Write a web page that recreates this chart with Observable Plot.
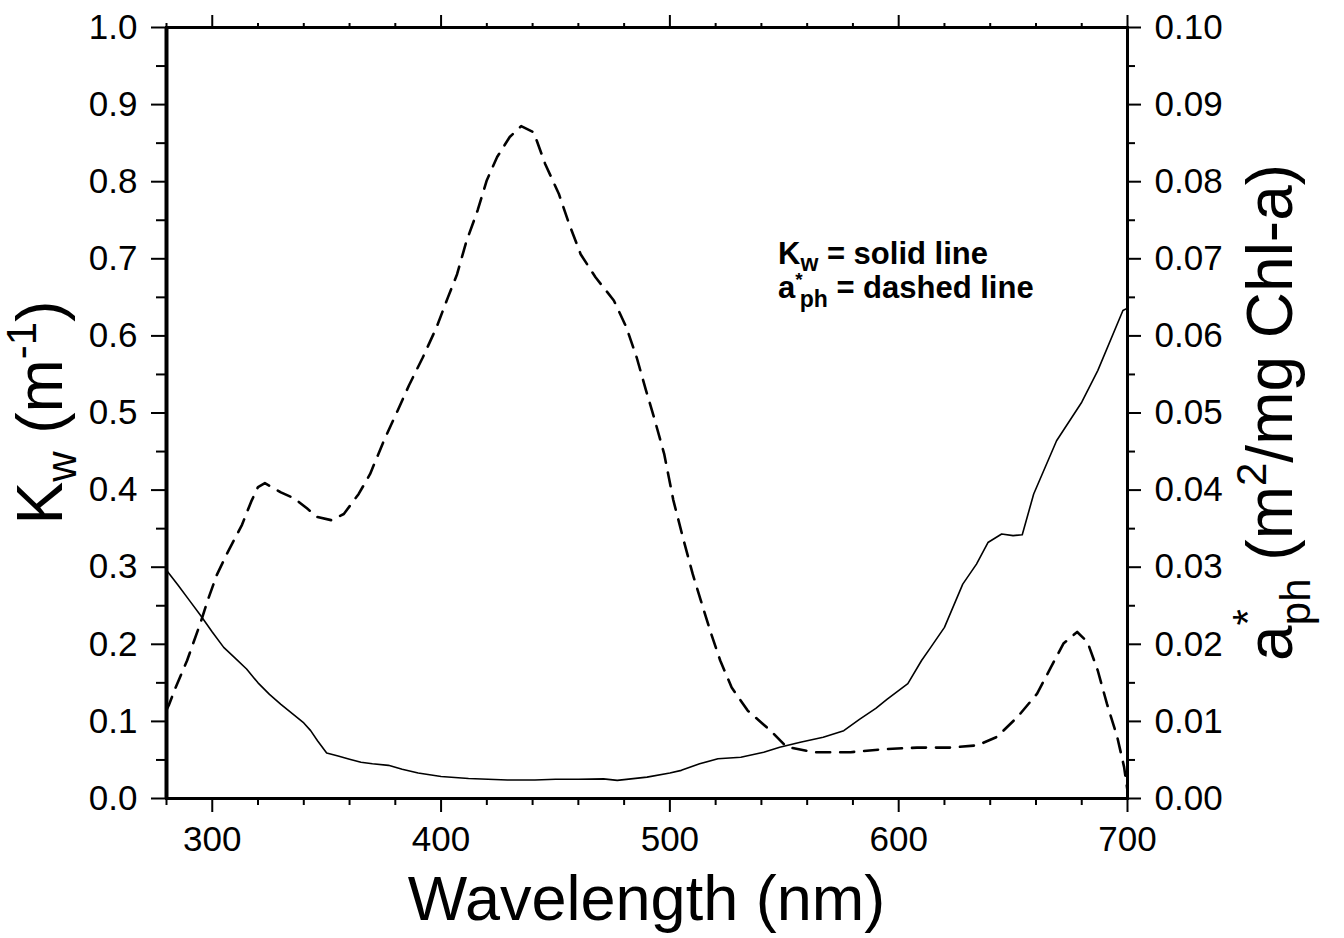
<!DOCTYPE html>
<html>
<head>
<meta charset="utf-8">
<script src="https://cdn.jsdelivr.net/npm/d3@7"></script>
<script src="https://cdn.jsdelivr.net/npm/@observablehq/plot@0.6"></script>
<style>
  html, body { margin: 0; padding: 0; background: #fff; }
  #chart { width: 1344px; height: 938px; }
</style>
</head>
<body>
<div id="chart"></div>
<script>
// ---- Data ----
// Kw (m^-1), solid line, left axis
const kwWavelength = [280, 285, 290, 295, 300, 305, 310, 315, 320, 325, 330, 335, 340, 343, 346, 350, 355, 360, 365, 370, 377, 383, 390, 400, 412, 429, 441, 450, 460, 471, 477, 490, 500, 505, 513, 521, 531, 541, 548, 557, 567, 576, 583, 590, 595, 604, 610, 614, 620, 628, 634, 639, 645, 650, 654, 659, 669, 680, 687, 698, 700];
const kwValues = [0.296, 0.277, 0.257, 0.237, 0.216, 0.196, 0.182, 0.168, 0.150, 0.135, 0.122, 0.110, 0.098, 0.088, 0.075, 0.059, 0.055, 0.051, 0.047, 0.045, 0.043, 0.038, 0.033, 0.0285, 0.026, 0.024, 0.024, 0.025, 0.025, 0.0255, 0.0235, 0.0277, 0.033, 0.0365, 0.045, 0.0515, 0.0536, 0.060, 0.0665, 0.073, 0.0795, 0.088, 0.103, 0.117, 0.129, 0.149, 0.179, 0.196, 0.222, 0.278, 0.304, 0.332, 0.343, 0.341, 0.342, 0.395, 0.464, 0.514, 0.555, 0.633, 0.636];

// a*ph (m^2/mg Chl-a), dashed line, right axis
const aphWavelength = [280, 281, 284, 289, 295, 298, 302, 306.5, 313, 317, 320, 323, 330, 336, 341.5, 346, 352, 357.5, 364, 369, 375, 381, 386, 392, 398, 403, 407, 411, 416, 420, 424.5, 430, 435, 440.5, 445.5, 451.5, 456, 461, 467.5, 475.5, 481, 485.5, 489.5, 493, 497.5, 501.5, 506, 510, 513.5, 518, 522, 527, 534, 544, 551, 563, 579, 593.5, 608, 622.5, 634.5, 643, 652, 660.5, 666.5, 672, 678, 682.5, 687, 691, 695.5, 698.5, 700];
const aphValues = [0.0115, 0.0121, 0.0144, 0.0179, 0.0229, 0.0257, 0.0290, 0.0318, 0.0355, 0.0385, 0.0404, 0.0409, 0.0397, 0.0389, 0.0376, 0.0365, 0.0361, 0.0369, 0.0395, 0.0421, 0.0464, 0.0503, 0.0536, 0.0572, 0.0611, 0.0650, 0.0680, 0.0722, 0.0763, 0.0802, 0.0832, 0.0858, 0.0872, 0.0864, 0.0823, 0.0784, 0.0745, 0.0706, 0.0676, 0.0646, 0.0611, 0.0572, 0.0530, 0.0495, 0.0447, 0.0387, 0.0335, 0.0291, 0.0257, 0.0214, 0.0179, 0.0144, 0.0114, 0.0088, 0.0067, 0.0060, 0.0060, 0.0064, 0.0066, 0.0066, 0.0069, 0.0080, 0.0106, 0.0136, 0.0170, 0.0201, 0.0216, 0.0203, 0.0166, 0.0123, 0.0080, 0.0041, 0.0010];

// Tick values
const xMajorTicks = [300, 400, 500, 600, 700];
const xMinorTicks = [280, 320, 340, 360, 380, 420, 440, 460, 480, 520, 540, 560, 580, 620, 640, 660, 680];
const leftMajorTicks = [0, 0.1, 0.2, 0.3, 0.4, 0.5, 0.6, 0.7, 0.8, 0.9, 1.0];
const leftMinorTicks = [0.05, 0.15, 0.25, 0.35, 0.45, 0.55, 0.65, 0.75, 0.85, 0.95];
const rightMajorTicks = [0, 0.01, 0.02, 0.03, 0.04, 0.05, 0.06, 0.07, 0.08, 0.09, 0.10];
const rightMinorTicks = [0.005, 0.015, 0.025, 0.035, 0.045, 0.055, 0.065, 0.075, 0.085, 0.095];
const aphToLeft = 10; // right axis 0–0.10 maps onto left axis 0–1.0

// ---- Build tables ----
const kwData = kwWavelength.map((w, i) => ({wl: w, v: kwValues[i]}));
const aphData = aphWavelength.map((w, i) => ({wl: w, v: aphValues[i]}));

const FONT = "'Liberation Sans', Arial, Helvetica, sans-serif";

const chart = Plot.plot({
  width: 1344,
  height: 938,
  marginLeft: 166,
  marginRight: 217,
  marginTop: 27,
  marginBottom: 140,
  style: {fontFamily: FONT, fontSize: "35px", color: "black", background: "white", overflow: "visible"},
  x: {domain: [280, 700], label: null},
  y: {domain: [0, 1], label: null},
  marks: [
    // bottom axis
    Plot.axisX({anchor: "bottom", ticks: xMajorTicks, tickSize: 14, tickPadding: 14, strokeWidth: 2, tickFormat: d => String(d), label: null}),
    Plot.axisX({anchor: "bottom", ticks: xMinorTicks, tickSize: 7, strokeWidth: 2, tickFormat: () => "", label: null}),
    // top axis
    Plot.axisX({anchor: "top", ticks: xMajorTicks, tickSize: 13, strokeWidth: 2, tickFormat: () => "", label: null}),
    Plot.axisX({anchor: "top", ticks: xMinorTicks, tickSize: 5, strokeWidth: 2, tickFormat: () => "", label: null}),
    // left axis
    Plot.axisY({anchor: "left", ticks: leftMajorTicks, tickSize: 15, tickPadding: 14, strokeWidth: 2, tickFormat: d => d.toFixed(1), label: null}),
    Plot.axisY({anchor: "left", ticks: leftMinorTicks, tickSize: 10, strokeWidth: 2, tickFormat: () => "", label: null}),
    // right axis (a*ph scale)
    Plot.axisY({anchor: "right", ticks: rightMajorTicks.map(d => d * aphToLeft), tickSize: 13, tickPadding: 14, strokeWidth: 2, tickFormat: d => (d / aphToLeft).toFixed(2), label: null}),
    Plot.axisY({anchor: "right", ticks: rightMinorTicks.map(d => d * aphToLeft), tickSize: 7, strokeWidth: 2, tickFormat: () => "", label: null}),
    // frame
    Plot.frame({stroke: "black", strokeWidth: 3}),
    Plot.ruleX([280], {stroke: "black", strokeWidth: 4}),
    // data
    Plot.line(kwData, {x: "wl", y: "v", stroke: "black", strokeWidth: 1.6}),
    Plot.line(aphData, {x: "wl", y: d => d.v * aphToLeft, stroke: "black", strokeWidth: 2.6, strokeDasharray: "14,10"})
  ]
});

const svg = d3.select(chart);
const xs = chart.scale("x"), ys = chart.scale("y");
const cx = (xs.apply(280) + xs.apply(700)) / 2;
const cy = (ys.apply(0) + ys.apply(1)) / 2;

// x-axis title
svg.append("text")
  .attr("x", cx).attr("y", 920)
  .attr("text-anchor", "middle")
  .attr("font-family", FONT).attr("font-size", 63)
  .text("Wavelength (nm)");

// left axis title: K_w (m^-1)
{
  const t = svg.append("text")
    .attr("transform", `translate(62,${cy}) rotate(-90)`)
    .attr("text-anchor", "middle")
    .attr("font-family", FONT).attr("font-size", 64);
  t.append("tspan").text("K");
  t.append("tspan").attr("dy", 14).attr("font-size", 42).text("w");
  t.append("tspan").attr("dy", -14).text(" (m");
  t.append("tspan").attr("dy", -26).attr("font-size", 42).text("-1");
  t.append("tspan").attr("dy", 26).text(")");
}

// right axis title: a*_ph (m^2/mg Chl-a)
{
  const t = svg.append("text")
    .attr("transform", `translate(1292,${cy}) rotate(-90)`)
    .attr("text-anchor", "middle")
    .attr("font-family", FONT).attr("font-size", 64);
  t.append("tspan").text("a");
  t.append("tspan").attr("dy", -30).attr("font-size", 42).text("*");
  t.append("tspan").attr("dy", 48).attr("dx", -16).attr("font-size", 42).text("ph");
  t.append("tspan").attr("dy", -18).text(" (m");
  t.append("tspan").attr("dy", -26).attr("font-size", 42).text("2");
  t.append("tspan").attr("dy", 26).text("/mg Chl-a)");
}

// legend (annotation)
{
  const lx = 778;
  const t1 = svg.append("text").attr("x", lx).attr("y", 264).attr("text-anchor", "start")
    .attr("font-family", FONT).attr("font-size", 31).attr("font-weight", "bold");
  t1.append("tspan").text("K");
  t1.append("tspan").attr("dy", 7).attr("font-size", 23).text("w");
  t1.append("tspan").attr("dy", -7).text(" = solid line");
  const t2 = svg.append("text").attr("x", lx).attr("y", 298).attr("text-anchor", "start")
    .attr("font-family", FONT).attr("font-size", 31).attr("font-weight", "bold");
  t2.append("tspan").text("a");
  t2.append("tspan").attr("dy", -12).attr("font-size", 19).text("*");
  t2.append("tspan").attr("dy", 21).attr("dx", -3).attr("font-size", 23).text("ph");
  t2.append("tspan").attr("dy", -9).text(" = dashed line");
}

document.getElementById("chart").appendChild(chart);
</script>
</body>
</html>
